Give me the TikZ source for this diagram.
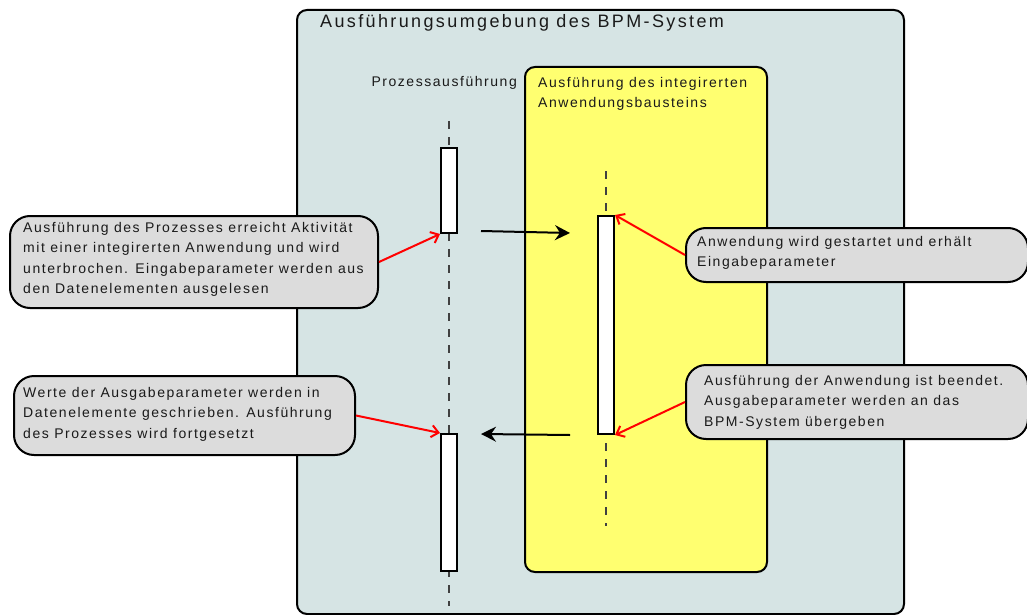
\documentclass[tikz,border=0pt]{standalone}
\usepackage{fontspec}
\setmainfont{Liberation Sans}[LetterSpace=11]
\newfontfamily\titlefont{Liberation Sans}[LetterSpace=13.2]
\usetikzlibrary{arrows.meta}
\definecolor{envfill}{HTML}{D6E4E4}
\definecolor{appfill}{HTML}{FFFF70}
\definecolor{notefill}{HTML}{DCDCDC}
\definecolor{txt}{HTML}{1A1A1A}
\definecolor{lifegray}{HTML}{404040}
\definecolor{redline}{HTML}{FF0000}
\tikzset{
  frame/.style={draw=black, line width=2pt, rounded corners=10pt},
  notebox/.style={draw=black, fill=notefill, line width=2pt, rounded corners=20pt, inner sep=0pt},
  notetext/.style={anchor=west, align=left, inner sep=0pt, text=txt, font=\fontsize{14}{20.4}\selectfont},
  lifeline/.style={draw=lifegray, line width=1.4pt, dash pattern=on 8pt off 8pt},
  bar/.style={draw=black, fill=white, line width=2pt, minimum width=16pt, inner sep=0pt},
  callarrow/.style={draw=redline, line width=2pt, -{Straight Barb[length=7pt,width=12pt,line width=2pt]}},
  msg/.style={draw=black, line width=2pt, -{Stealth[length=15pt,width=15pt,inset=5pt]}},
  plain/.style={inner sep=0pt, text=txt, font=\fontsize{14}{20}\selectfont}
}
\begin{document}
\begin{tikzpicture}[x=1pt,y=-1pt]
\useasboundingbox (0,0) rectangle (1027,615);
% environment
\draw[frame, fill=envfill] (297,10) rectangle (904,614);
\node[plain, anchor=base west, font=\titlefont\fontsize{18}{22}\selectfont] (title) at (320,28) {Ausführungsumgebung des BPM-System};
% application box
\draw[frame, fill=appfill] (525,67) rectangle (767,572);
\node[plain, anchor=base east] (proc) at (517,87) {Prozessausführung};
\node[plain, anchor=north west, align=left, font=\fontsize{14}{20}\selectfont] (apptitle) at (538,76.7) {Ausführung des integirerten\\Anwendungsbausteins};
% lifelines
\coordinate (l1top) at (449,121);
\coordinate (l1bot) at (449,606);
\coordinate (l2top) at (606,171);
\coordinate (l2bot) at (606,526);
\draw[lifeline] (l1top) -- (l1bot);
\draw[lifeline] (l2top) -- (l2bot);
% activation bars
\node[bar, minimum height=85pt] (bar1) at (449,190.5) {};
\node[bar, minimum height=137pt] (bar2) at (449,502.5) {};
\node[bar, minimum height=218pt] (bar3) at (606,325) {};
% messages
\coordinate (m1s) at (481,231);
\coordinate (m1e) at (570,233);
\coordinate (m2s) at (570,435);
\coordinate (m2e) at (481,434);
\draw[msg] (m1s) -- (m1e);
\draw[msg] (m2s) -- (m2e);
% callouts
\node[notebox, minimum width=368pt, minimum height=92pt] (c1) at (194,262) {};
\node[notetext] (t1) at ([xshift=14pt,yshift=2.5pt]c1.west) {Ausführung des Prozesses erreicht Aktivität\\mit einer integirerten Anwendung und wird\\unterbrochen. Eingabeparameter werden aus\\den Datenelementen ausgelesen};
\node[notebox, minimum width=342pt, minimum height=54pt] (c2) at (857,255) {};
\node[notetext] (t2) at ([xshift=12pt,yshift=2pt]c2.west) {Anwendung wird gestartet und erhält\\Eingabeparameter};
\node[notebox, minimum width=341pt, minimum height=79pt] (c3) at (184.5,415.5) {};
\node[notetext] (t3) at ([xshift=10pt,yshift=1.5pt]c3.west) {Werte der Ausgabeparameter werden in\\Datenelemente geschrieben. Ausführung\\des Prozesses wird fortgesetzt};
\node[notebox, minimum width=342pt, minimum height=74pt] (c4) at (857,402) {};
\node[notetext] (t4) at ([xshift=19pt]c4.west) {Ausführung der Anwendung ist beendet.\\Ausgabeparameter werden an das\\BPM-System übergeben};
% callout arrows
\draw[callarrow] (c1.east) -- (bar1.south west);
\draw[callarrow] (c2.west) -- (bar3.north east);
\draw[callarrow] (c3.east) -- (bar2.north west);
\draw[callarrow] (c4.west) -- (bar3.south east);
\end{tikzpicture}
\end{document}
